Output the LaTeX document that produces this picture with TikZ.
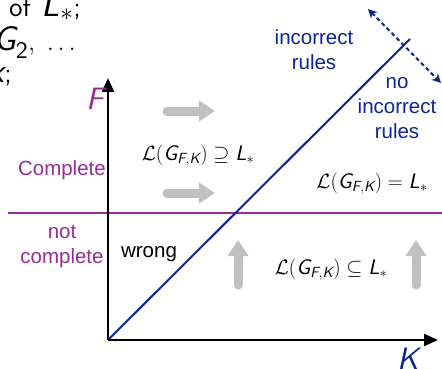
\documentclass[tikz,border=0pt]{standalone}
\usepackage{amsmath}
\usepackage{fontspec}
\setmainfont{Liberation Sans}
\setsansfont{lmsans10-regular.otf}[ItalicFont=lmsans10-oblique.otf, SlantedFont=lmsans10-oblique.otf]
\usetikzlibrary{arrows.meta}
\definecolor{mypurple}{RGB}{150,45,150}
\definecolor{myblue}{RGB}{12,36,150}
\definecolor{arrgray}{RGB}{192,192,192}
\newcommand{\mv}[1]{\text{\sffamily\slshape #1}}
\newcommand{\mup}[1]{\text{\sffamily #1}}
\newcommand{\fragmath}[1]{{\fontsize{34}{40}\selectfont$#1$}}
\begin{document}
\begin{tikzpicture}[x=1pt,y=-1pt,
  lbl/.style={font=\fontsize{20.5}{25}\selectfont, align=center, inner sep=0pt},
  mth/.style={font=\fontsize{21}{24}\selectfont, inner sep=1pt, fill=white},
  frag/.style={font=\sffamily\fontsize{27}{32}\selectfont, inner sep=0pt},
  axis/.style={line width=2.4pt, -{Triangle[length=14pt,width=12pt]}},
  garrow/.style={line width=9pt, arrgray, line cap=round, -{Triangle[length=16pt,width=20pt]}},
]
\useasboundingbox (0,0) rectangle (442,369);

% top-left fragment text
\node[frag, anchor=base west] (t1a) at (9,17) {of};
\node[frag, anchor=base east] (t1b) at (81,17) {\fragmath{\mv{L}_*};};
\node[frag, anchor=base west] (t2) at (-7,51) {\fragmath{\mv{G}_{\mup{2}}}{\fontsize{24}{28}\selectfont$,$\hspace{12pt}$\ldots$}};
\node[frag, anchor=base east] (t3) at (12,82) {\fragmath{\mv{x}};};

% coordinates
\coordinate (O) at (108,340);
\coordinate (Ytop) at (108,78);
\coordinate (Xend) at (438,340);
\coordinate (Dend) at (410,39);
\coordinate (Pl) at (8,213);
\coordinate (Pr) at (442,213);
\coordinate (Da) at (368,9);
\coordinate (Db) at (441,83);

% purple line
\draw[mypurple, line width=2.4pt] (Pl) -- (Pr);
% diagonal
\draw[myblue, line width=2pt] (O) -- (Dend);
% axes
\draw[axis] (O) -- (Ytop);
\draw[axis] (O) -- (Xend);
% dashed double arrow
\draw[myblue, line width=2pt, dash pattern=on 4pt off 3pt, {Stealth[length=9pt,width=9pt]}-{Stealth[length=9pt,width=9pt]}] (Da) -- (Db);

% gray arrows
\coordinate (ga1s) at (167,111); \coordinate (ga1e) at (215,111);
\coordinate (ga2s) at (167,193); \coordinate (ga2e) at (215,193);
\coordinate (ga3s) at (238,285); \coordinate (ga3e) at (238,240);
\coordinate (ga4s) at (416,285); \coordinate (ga4e) at (416,240);
\draw[garrow] (ga1s) -- (ga1e);
\draw[garrow] (ga2s) -- (ga2e);
\draw[garrow] (ga3s) -- (ga3e);
\draw[garrow] (ga4s) -- (ga4e);

% axis labels
\node[mypurple, font=\fontsize{31}{36}\selectfont, inner sep=0pt] (F) at (95,99) {$\mv{F}$};
\node[myblue, font=\fontsize{31}{36}\selectfont, inner sep=0pt] (K) at (408,359) {$\mv{K}$};

% region labels
\node[lbl, myblue] (inc) at (314,50) {incorrect\\rules};
\node[lbl, myblue] (noinc) at (397,108) {no\\incorrect\\rules};
\node[lbl, mypurple, anchor=east] (comp) at (106,170) {Complete};
\node[lbl, mypurple] (notcomp) at (62,246) {not\\complete};
\node[lbl] (wrong) at (149,254) {wrong};

% math labels
\node[mth] (sup) at (198,156) {$\mathcal{L}(\mv{G}_{\mv{F},\mv{K}}) \supseteq \mv{L}_*$};
\node[mth] (eq) at (372,184) {$\mathcal{L}(\mv{G}_{\mv{F},\mv{K}}) = \mv{L}_*$};
\node[mth] (sub) at (331,270) {$\mathcal{L}(\mv{G}_{\mv{F},\mv{K}}) \subseteq \mv{L}_*$};
\end{tikzpicture}
\end{document}
